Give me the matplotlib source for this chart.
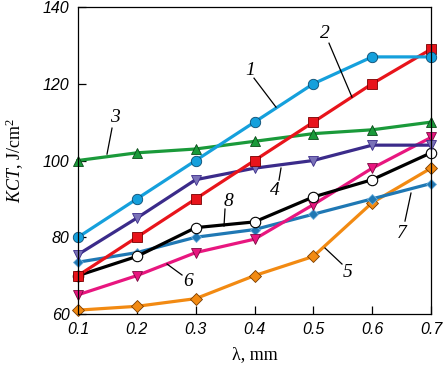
import matplotlib.pyplot as plt

plt.rcParams["mathtext.fontset"] = "custom"
plt.rcParams["mathtext.it"] = "Liberation Serif:italic"
plt.rcParams["mathtext.rm"] = "Liberation Serif"

lam = [0.1, 0.2, 0.3, 0.4, 0.5, 0.6, 0.7]

kct1 = [80, 90, 100, 110, 120, 127, 127]
kct2 = [70, 80, 90, 100, 110, 120, 129]
kct3 = [100, 102, 103, 105, 107, 108, 110]
kct4 = [75.5, 85, 95, 98, 100, 104, 104]
kct5 = [61, 62, 64, 70, 75, 89, 98]
kct6 = [65, 70, 76, 79.5, 88.5, 98, 106]
kct7 = [73.5, 76, 80, 82, 86, 90, 94]
kct8 = [70, 75, 82.5, 84, 90.5, 95, 102]

xticks = [0.1, 0.2, 0.3, 0.4, 0.5, 0.6, 0.7]
yticks = [60, 80, 100, 120, 140]

fig = plt.figure(figsize=(4.44, 3.73), dpi=100)
ax = fig.add_axes([0.1757, 0.1582, 0.795, 0.823])

lw = 2.3
ms = 7.5
ax.plot(lam, kct5, color="#f28a12", lw=lw, marker="D", ms=6.5, mec="#7a3d00", mew=0.6, clip_on=False)
ax.plot(lam, kct7, color="#1f78b4", lw=lw, marker="D", ms=5, mec="#6fb0dc", mew=0.6, clip_on=False)
ax.plot(lam, kct6, color="#e8167f", lw=lw, marker="v", ms=ms, mec="#7a0a40", mew=0.6, clip_on=False)
ax.plot(lam, kct8, color="black", lw=lw, marker="o", ms=ms, mfc="white", mec="black", mew=0.8, clip_on=False)
ax.plot(lam, kct4, color="#3b2b8a", lw=lw, marker="v", ms=6.5, mfc="#7a72b8", mec="#3b2b8a", mew=0.6, clip_on=False)
ax.plot(lam, kct3, color="#1a9a3a", lw=lw, marker="^", ms=ms, mec="#0a4a18", mew=0.6, clip_on=False)
ax.plot(lam, kct2, color="#e8141b", lw=lw, marker="s", ms=ms, mec="#7a0000", mew=0.6, clip_on=False)
ax.plot(lam, kct1, color="#15a0dc", lw=lw, marker="o", ms=ms, mec="#0a4a70", mew=0.6, clip_on=False)

for s in ax.spines.values():
    s.set_linewidth(0.9)
ax.set_xlim(0.1, 0.7)
ax.set_ylim(60, 140)
ax.set_xticks(xticks)
ax.set_yticks(yticks)
ax.set_xticklabels(["0.1", "0.2", "0.3", "0.4", "0.5", "0.6", "0.7"])
ax.tick_params(direction="in", length=6, width=0.9, pad=6)
for t in ax.get_xticklabels() + ax.get_yticklabels():
    t.set_family("Liberation Sans")
    t.set_style("italic")
    t.set_fontsize(11.5)

ax.set_xlabel("λ, mm", family="Liberation Serif", fontsize=13, labelpad=6)
ax.set_ylabel(r"$KCT$, J/cm$^2$", family="Liberation Serif", fontsize=13, labelpad=12)

# curve numbers with leader lines (positions given in pixels, converted to data)
def px(x, y):
    return (0.1 + (x - 78) / 353 * 0.6, 60 + (314 - y) / 3.84)

labels = [
    ("1", (250, 70), (254, 78), (276, 107)),
    ("2", (325, 33), (329, 43), (352, 97)),
    ("3", (115, 117), (112, 128), (107, 154)),
    ("4", (275, 190), (279, 180), (281, 168)),
    ("5", (348, 272), (342, 264), (325, 248)),
    ("6", (188, 281), (182, 275), (167, 264)),
    ("7", (402, 233), (405, 221), (411, 193)),
    ("8", (228, 201), (225, 209), (224, 226)),
]
for txt, tp, a, b in labels:
    ax.text(*px(*tp), txt, family="Liberation Serif", style="italic", fontsize=14,
            ha="center", va="center")
    p1 = px(*a)
    p2 = px(*b)
    ax.plot([p1[0], p2[0]], [p1[1], p2[1]], color="black", lw=0.9)

fig.savefig("out.png", dpi=100)
